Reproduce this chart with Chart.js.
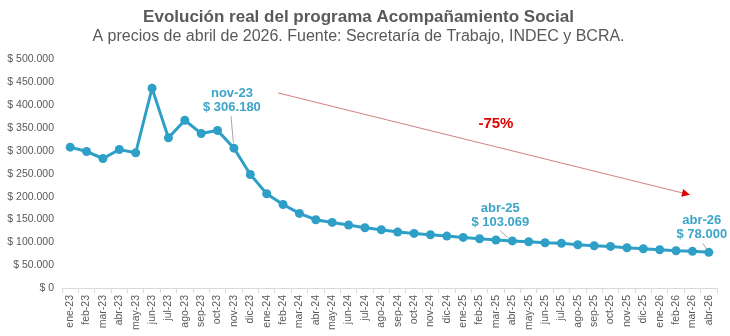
<!DOCTYPE html>
<html lang="es">
<head>
<meta charset="utf-8">
<title>Acompañamiento Social</title>
<script src="https://cdn.jsdelivr.net/npm/chart.js@4.4.1/dist/chart.umd.min.js"></script>
<style>
  body { margin: 0; background: #fff; }
  canvas { display: block; }
</style>
</head>
<body>
<canvas id="graficoAcompanamiento" width="730" height="336"></canvas>
<script>
// meses de la serie
var meses = ['ene-23', 'feb-23', 'mar-23', 'abr-23', 'may-23', 'jun-23', 'jul-23', 'ago-23', 'sep-23', 'oct-23', 'nov-23', 'dic-23',
	'ene-24', 'feb-24', 'mar-24', 'abr-24', 'may-24', 'jun-24', 'jul-24', 'ago-24', 'sep-24', 'oct-24', 'nov-24', 'dic-24',
	'ene-25', 'feb-25', 'mar-25', 'abr-25', 'may-25', 'jun-25', 'jul-25', 'ago-25', 'sep-25', 'oct-25', 'nov-25', 'dic-25',
	'ene-26', 'feb-26', 'mar-26', 'abr-26'];

// valores reales a precios de abril 2026
var valores = [308300, 298800, 283500, 303200, 295900, 437300, 328700, 367300, 338200, 344800, 306180, 248500,
	206300, 182900, 163300, 149400, 143600, 137800, 131900, 127600, 122500, 119500, 116600, 113700,
	110800, 107900, 105000, 103069, 101300, 99100, 97700, 94700, 92600, 91100, 88200, 86000,
	83800, 81600, 80200, 78000];

var ticksY = [0, 50000, 100000, 150000, 200000, 250000, 300000, 350000, 400000, 450000, 500000];

// meses con etiqueta de valor
var mesesEtiquetados = ['nov-23', 'abr-25', 'abr-26'];

var variacionTexto = '-75%';

var AZUL = '#2E9FC6';
var GRIS = '#595959';

function formatoPesos(v) {
	return '$ ' + String(Math.round(v)).replace(/\B(?=(\d{3})+(?!\d))/g, '.');
}

// etiquetas, flecha y porcentaje
var anotaciones = {
	id: 'anotaciones',
	afterDatasetsDraw: function(chart) {
		var ctx = chart.ctx;
		var x = chart.scales.x, y = chart.scales.y;

		// desplazamientos de cada etiqueta respecto a su punto
		var despl = {
			'nov-23': { dx: -2, l1: -55, l2: -41, a: [-3, -32], b: [-0.5, -5] },
			'abr-25': { dx: -12, l1: -32, l2: -18, a: [-12, -10], b: [-4, -3] },
			'abr-26': { dx: -7, l1: -32, l2: -18, a: [-6, -9], b: [-2, -3] }
		};

		ctx.save();
		mesesEtiquetados.forEach(function(m) {
			var i = meses.indexOf(m);
			var px = x.getPixelForValue(i);
			var py = y.getPixelForValue(valores[i]);
			var d = despl[m];

			ctx.strokeStyle = '#A6A6A6';
			ctx.lineWidth = 1;
			ctx.beginPath();
			ctx.moveTo(px + d.a[0], py + d.a[1]);
			ctx.lineTo(px + d.b[0], py + d.b[1]);
			ctx.stroke();

			ctx.fillStyle = '#3AA5C8';
			ctx.font = 'bold 13px "Liberation Sans", Arial, sans-serif';
			ctx.textAlign = 'center';
			ctx.textBaseline = 'middle';
			ctx.fillText(m, px + d.dx, py + d.l1);
			ctx.fillText(formatoPesos(valores[i]), px + d.dx, py + d.l2);
		});

		// flecha de tendencia
		var x1 = x.getPixelForValue(12.7), y1 = y.getPixelForValue(427000);
		var x2 = x.getPixelForValue(37.85), y2 = y.getPixelForValue(204000);
		var ang = Math.atan2(y2 - y1, x2 - x1);
		ctx.strokeStyle = '#C9605D';
		ctx.lineWidth = 0.8;
		ctx.beginPath();
		ctx.moveTo(x1, y1);
		ctx.lineTo(x2 - 6 * Math.cos(ang), y2 - 6 * Math.sin(ang));
		ctx.stroke();
		ctx.fillStyle = '#E00000';
		ctx.beginPath();
		ctx.moveTo(x2, y2);
		ctx.lineTo(x2 - 8 * Math.cos(ang) + 4 * Math.sin(ang), y2 - 8 * Math.sin(ang) - 4 * Math.cos(ang));
		ctx.lineTo(x2 - 8 * Math.cos(ang) - 4 * Math.sin(ang), y2 - 8 * Math.sin(ang) + 4 * Math.cos(ang));
		ctx.closePath();
		ctx.fill();

		ctx.font = 'bold 15px "Liberation Sans", Arial, sans-serif';
		ctx.textAlign = 'center';
		ctx.textBaseline = 'middle';
		ctx.fillText(variacionTexto, x.getPixelForValue(26), y.getPixelForValue(359000));
		ctx.restore();
	}
};

Chart.defaults.font.family = '"Liberation Sans", Arial, sans-serif';
Chart.defaults.color = GRIS;

var grafico = new Chart(document.getElementById('graficoAcompanamiento').getContext('2d'), {
	type: 'line',
	data: {
		labels: meses,
		datasets: [{
			label: 'Acompañamiento Social',
			data: valores,
			borderColor: AZUL,
			backgroundColor: AZUL,
			borderWidth: 3,
			pointRadius: 4.5,
			pointBorderWidth: 0,
			pointBackgroundColor: AZUL,
			tension: 0
		}]
	},
	options: {
		responsive: false,
		animation: false,
		devicePixelRatio: 1,
		layout: { padding: { left: 0, right: 13, top: 0, bottom: 0 } },
		plugins: {
			legend: { display: false },
			tooltip: { enabled: false },
			title: {
				display: true,
				text: 'Evolución real del programa Acompañamiento Social',
				color: GRIS,
				font: { size: 17, weight: 'bold' },
				padding: { top: 7, bottom: 0 }
			},
			subtitle: {
				display: true,
				text: 'A precios de abril de 2026. Fuente: Secretaría de Trabajo, INDEC y BCRA.',
				color: GRIS,
				font: { size: 16, weight: 'normal' },
				padding: { top: 0, bottom: 13 }
			}
		},
		scales: {
			x: {
				offset: true,
				grid: { display: true, drawOnChartArea: false, offset: true, color: '#D9D9D9', tickLength: 5 },
				border: { display: true, color: '#D9D9D9' },
				ticks: { minRotation: 90, maxRotation: 90, autoSkip: false, padding: 2, font: { size: 10.5 }, color: GRIS },
				afterFit: function(scale) { scale.height = 48; }
			},
			y: {
				min: 0,
				max: 500000,
				grid: { display: false, drawTicks: false },
				border: { display: false },
				afterBuildTicks: function(scale) {
					scale.ticks = ticksY.map(function(v) { return { value: v }; });
				},
				ticks: {
					padding: 8,
					font: { size: 10.5 },
					color: GRIS,
					callback: function(v) { return formatoPesos(v); }
				},
				afterFit: function(scale) { scale.width = 62; }
			}
		}
	},
	plugins: [anotaciones]
});
</script>
</body>
</html>
